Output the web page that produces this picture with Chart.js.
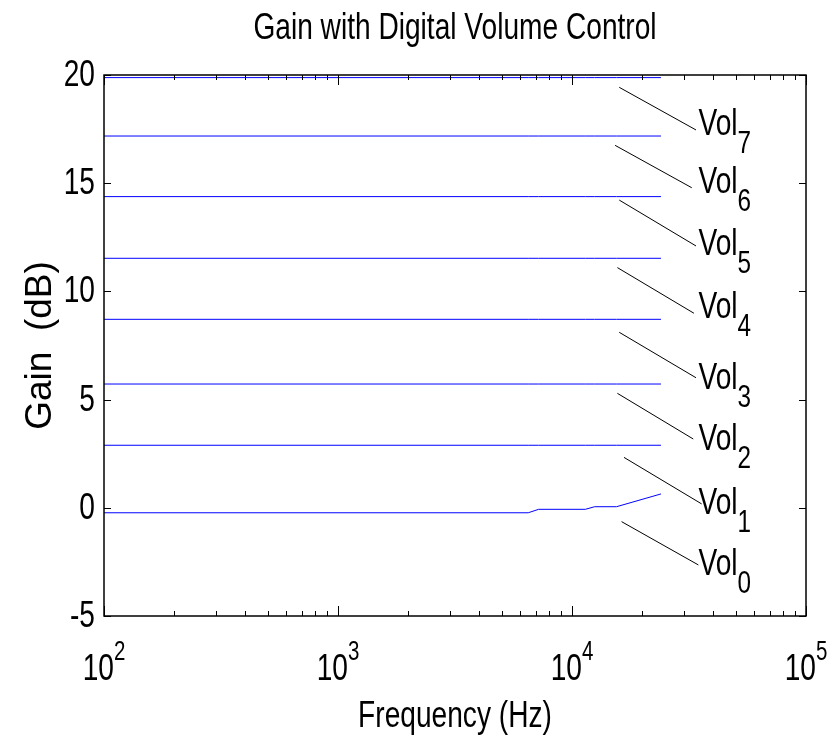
<!DOCTYPE html>
<html><head><meta charset="utf-8">
<script src="https://cdn.jsdelivr.net/npm/chart.js@4/dist/chart.umd.min.js"></script>
<style>html,body{margin:0;padding:0;background:#fff;overflow:hidden}canvas{display:block}</style>
</head><body>
<canvas id="chart" width="835" height="739"></canvas>
<script>
// ---- data ----
const titleText = 'Gain with Digital Volume Control';
const xAxisTitle = 'Frequency (Hz)';
const yAxisTitle = 'Gain  (dB)';

const frequencies = [100, 6500, 7200, 11400, 12500, 15500, 24000];
const vol0 = [-0.23, -0.23, -0.07, -0.07, 0.05, 0.05, 0.64];
const vol1 = [2.89, 2.89, 2.89, 2.89, 2.89, 2.89, 2.89];
const vol2 = [5.72, 5.72, 5.72, 5.72, 5.72, 5.72, 5.72];
const vol3 = [8.71, 8.71, 8.71, 8.71, 8.71, 8.71, 8.71];
const vol4 = [11.53, 11.53, 11.53, 11.53, 11.53, 11.53, 11.53];
const vol5 = [14.38, 14.38, 14.38, 14.38, 14.38, 14.38, 14.38];
const vol6 = [17.18, 17.18, 17.18, 17.18, 17.18, 17.18, 17.18];
const vol7 = [19.88, 19.88, 19.88, 19.88, 19.88, 19.88, 19.88];
const seriesValues = [vol0, vol1, vol2, vol3, vol4, vol5, vol6, vol7];

const xTickValues = [100, 1000, 10000, 100000];
const xTickBase = ['10', '10', '10', '10'];
const xTickExponents = ['2', '3', '4', '5'];
const yTickValues = [-5, 0, 5, 10, 15, 20];
const yTickLabels = ['-5', '0', '5', '10', '15', '20'];

const labelNames = ['Vol', 'Vol', 'Vol', 'Vol', 'Vol', 'Vol', 'Vol', 'Vol'];
const labelSubscripts = ['0', '1', '2', '3', '4', '5', '6', '7'];
const leaderStartFreq = [16290, 16680, 15630, 15920, 15630, 15920, 15280, 15920];
const leaderStartGain = [-0.64, 2.33, 5.29, 8.11, 11.10, 14.22, 16.75, 19.43];
const leaderEndFreq = [34670, 35810, 32970, 33880, 33200, 33880, 32500, 33880];
const leaderEndGain = [-2.64, 0.18, 3.18, 6.01, 8.99, 12.10, 14.79, 17.46];
const labelFreq = [34700, 34700, 34700, 34700, 34700, 34700, 34700, 34700];
const labelGain = [-3.11, -0.29, 2.67, 5.48, 8.76, 11.68, 14.53, 17.23];

// ---- styling ----
const FONT = '"Liberation Sans", Arial, Helvetica, sans-serif';
const SX = 0.76;
const lineColor = '#0000ff';

function drawText(ctx, s, x, y, size, align, sx) {
  ctx.save();
  ctx.font = size + 'px ' + FONT;
  ctx.translate(x, y);
  ctx.scale(sx, 1);
  ctx.textAlign = align;
  ctx.textBaseline = 'alphabetic';
  ctx.fillStyle = '#000';
  ctx.fillText(s, 0, 0);
  ctx.restore();
}

const matlabAxes = {
  id: 'matlabAxes',
  afterDatasetsDraw(chart) {
    const ctx = chart.ctx;
    const xs = chart.scales.x, ys = chart.scales.y;
    const a = chart.chartArea;
    ctx.save();
    ctx.strokeStyle = '#000';
    // leader lines
    ctx.lineWidth = 1;
    for (let i = 0; i < labelNames.length; i++) {
      ctx.beginPath();
      ctx.moveTo(xs.getPixelForValue(leaderStartFreq[i]), ys.getPixelForValue(leaderStartGain[i]));
      ctx.lineTo(xs.getPixelForValue(leaderEndFreq[i]), ys.getPixelForValue(leaderEndGain[i]));
      ctx.stroke();
    }
    // box
    ctx.lineWidth = 1.5;
    ctx.strokeRect(a.left, a.top, a.right - a.left, a.bottom - a.top);
    // x ticks (major + minor), inward, top and bottom
    ctx.lineWidth = 1;
    for (let d = 0; d < xTickValues.length; d++) {
      const base = xTickValues[d];
      for (let m = 1; m <= 9; m++) {
        const v = base * m;
        if (v > xTickValues[xTickValues.length - 1]) break;
        const px = Math.round(xs.getPixelForValue(v)) + 0.5;
        const len = m === 1 ? 10 : 5;
        ctx.beginPath();
        ctx.moveTo(px, a.bottom); ctx.lineTo(px, a.bottom - len);
        ctx.moveTo(px, a.top); ctx.lineTo(px, a.top + len);
        ctx.stroke();
      }
    }
    // y ticks, inward, left and right
    for (const v of yTickValues) {
      const py = Math.round(ys.getPixelForValue(v)) + 0.5;
      ctx.beginPath();
      ctx.moveTo(a.left, py); ctx.lineTo(a.left + 7, py);
      ctx.moveTo(a.right, py); ctx.lineTo(a.right - 7, py);
      ctx.stroke();
    }
    // y tick labels
    for (let i = 0; i < yTickValues.length; i++) {
      const py = ys.getPixelForValue(yTickValues[i]);
      drawText(ctx, yTickLabels[i], a.left - 9, py + 11, 37, 'right', SX);
    }
    // x tick labels 10^n
    for (let i = 0; i < xTickValues.length; i++) {
      const px = xs.getPixelForValue(xTickValues[i]);
      ctx.save();
      ctx.font = '37px ' + FONT;
      const wb = ctx.measureText(xTickBase[i]).width * SX;
      ctx.font = '27px ' + FONT;
      const we = ctx.measureText(xTickExponents[i]).width * SX;
      ctx.restore();
      const left = px - (wb + we) / 2;
      drawText(ctx, xTickBase[i], left, a.bottom + 64, 37, 'left', SX);
      drawText(ctx, xTickExponents[i], left + wb, a.bottom + 44, 27, 'left', SX);
    }
    // Vol labels with subscripts
    for (let i = 0; i < labelNames.length; i++) {
      const px = xs.getPixelForValue(labelFreq[i]);
      const py = ys.getPixelForValue(labelGain[i]);
      ctx.save();
      ctx.font = '37px ' + FONT;
      const w = ctx.measureText(labelNames[i]).width * SX;
      ctx.restore();
      drawText(ctx, labelNames[i], px, py, 37, 'left', SX);
      drawText(ctx, labelSubscripts[i], px + w, py + 18, 32, 'left', SX);
    }
    // title
    drawText(ctx, titleText, (a.left + a.right) / 2, 39, 37, 'center', SX);
    // x axis title
    drawText(ctx, xAxisTitle, (a.left + a.right) / 2, 727, 37, 'center', SX);
    // y axis title (rotated)
    ctx.save();
    ctx.translate(51, (a.top + a.bottom) / 2);
    ctx.rotate(-Math.PI / 2);
    ctx.font = '37px ' + FONT;
    ctx.textAlign = 'center';
    ctx.fillStyle = '#000';
    ctx.fillText(yAxisTitle, 0, 0);
    ctx.restore();
    ctx.restore();
  }
};

const datasets = seriesValues.map((vals, i) => ({
  label: labelNames[i] + labelSubscripts[i],
  data: frequencies.map((f, j) => ({ x: f, y: vals[j] })),
  showLine: true,
  borderColor: lineColor,
  backgroundColor: lineColor,
  borderWidth: 1,
  pointRadius: 0,
  tension: 0
}));

new Chart(document.getElementById('chart'), {
  type: 'scatter',
  data: { datasets },
  options: {
    responsive: false,
    animation: false,
    layout: { padding: { left: 104, right: 29, top: 75, bottom: 123 } },
    plugins: { legend: { display: false }, tooltip: { enabled: false }, title: { display: false } },
    scales: {
      x: { type: 'logarithmic', min: 100, max: 100000, display: false },
      y: { type: 'linear', min: -5, max: 20, display: false }
    }
  },
  plugins: [matlabAxes]
});
</script>
</body></html>
